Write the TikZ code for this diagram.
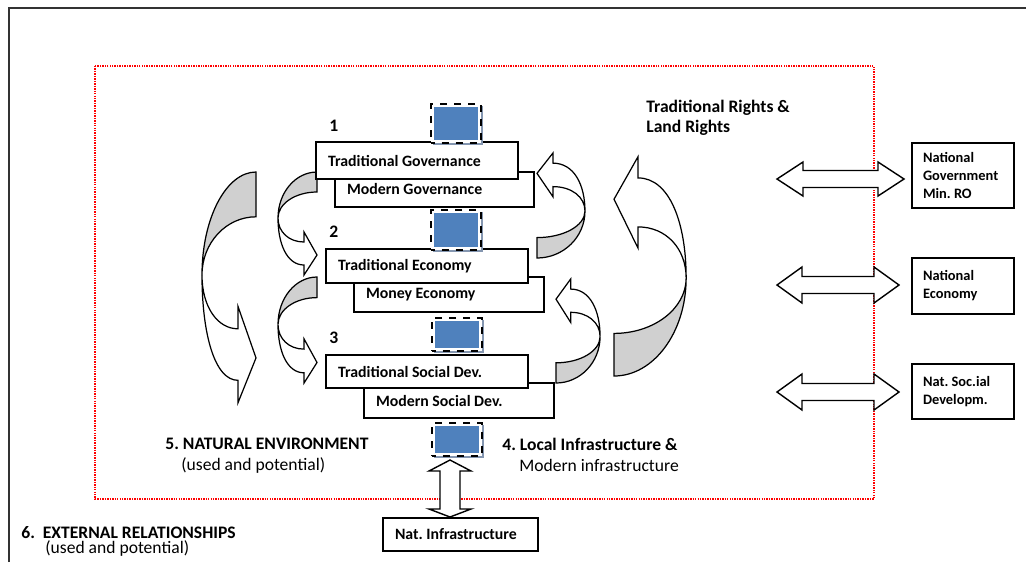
\documentclass[tikz,border=0pt]{standalone}
\usepackage{fontspec}
\setmainfont{Carlito}
\usepackage{tikz}
\usetikzlibrary{shadows}
\definecolor{blockblue}{HTML}{4F81BD}
\definecolor{shadowblue}{HTML}{8496B0}
\definecolor{backgray}{HTML}{D0D0D0}
\frenchspacing

\tikzset{
	layerbox/.style={draw, fill=white, line width=0.8pt, inner xsep=0.24cm, inner ysep=0pt, align=flush left, font=\bfseries\fontsize{9}{11}\selectfont},
	extbox/.style={draw, fill=white, line width=0.8pt, inner xsep=0.22cm, inner ysep=0pt, align=flush left, text width=1.6cm, font=\bfseries\fontsize{8.2}{10.24}\selectfont},
	hollow/.style={draw=black, fill=white, line width=0.8pt},
	backface/.style={draw=black, fill=backgray, line width=0.7pt},
	frontface/.style={draw=black, fill=white, line width=0.7pt},
	blueblock/.style={draw=black, line width=1.6pt, dash pattern=on 4pt off 4pt, dash phase=2pt, fill=white, minimum width=1cm, inner sep=0pt,
		drop shadow={fill=shadowblue, opacity=1, shadow xshift=1.3pt, shadow yshift=-1.3pt},
		path picture={\fill[blockblue] ([shift={(1.8pt,-1.8pt)}]path picture bounding box.north west) rectangle ([shift={(-1.8pt,1.8pt)}]path picture bounding box.south east);}},
	lbl/.style={anchor=base west, inner sep=0pt, font=\bfseries\fontsize{10}{12}\selectfont},
	sublbl/.style={anchor=base west, inner sep=0pt, font=\fontsize{10}{12}\selectfont},
	% twisted ribbon arrow: grey back at the top, head at the bottom pointing right
	bendarrow/.pic={
		\filldraw[backface] (0,0) .. controls (-21.5,0) and (-39,20.6) .. (-39,46)
			.. controls (-39,31.6) and (-21.5,20) .. (0,20) -- cycle;
		\filldraw[frontface] (-39,46) .. controls (-39,60) and (-28,70) .. (-13,70)
			-- (-13,60) -- (0,83) -- (-13,103) -- (-13,93)
			.. controls (-30,93) and (-39,72) .. (-39,46) -- cycle;
	}
}

\begin{document}
\begin{tikzpicture}[x=0.02cm, y=-0.02cm]
	\useasboundingbox (0,0) rectangle (1026,562);
	% outer frame
	\draw[line width=0.9pt, black!80] (9,562) -- (9,8) -- (1026,8);
	% local boundary
	\draw[red, line width=0.7pt, dash pattern=on 0.8pt off 0.6pt] (95,66) rectangle (874,499);

	% flows between the layers
	\pic[xscale=1.385, yscale=2.24] (envflow) at (256,172) {bendarrow};
	\pic (flowA) at (317,172) {bendarrow};
	\pic[yscale=1.03] (flowB) at (317,277) {bendarrow};
	\pic[xscale=-1.85, yscale=-2.13] (landflow) at (614,376) {bendarrow};
	\pic[xscale=-1.23, yscale=-1.02] (flowC) at (537,258) {bendarrow};
	\pic[xscale=-1.13, yscale=-1.01] (flowD) at (556,383) {bendarrow};

	% the three layers, modern behind traditional
	\node[layerbox, text width=3.50cm, minimum height=0.70cm] (mgov) at (434.5,189.5) {Modern Governance};
	\node[layerbox, text width=3.56cm, minimum height=0.74cm] (tgov) at (417,160.5) {Traditional Governance};
	\node[layerbox, text width=3.32cm, minimum height=0.70cm] (mecon) at (449,294.5) {Money Economy};
	\node[layerbox, text width=3.56cm, minimum height=0.68cm] (tecon) at (427,266) {Traditional Economy};
	\node[layerbox, text width=3.32cm, minimum height=0.70cm] (msoc) at (459,400.5) {Modern Social Dev.};
	\node[layerbox, text width=3.56cm, minimum height=0.66cm] (tsoc) at (427,371.5) {Traditional Social Dev.};

	\node[blueblock, minimum height=0.78cm] (blk1) at (456,123.5) {};
	\node[blueblock, minimum height=0.80cm] (blk2) at (456,230) {};
	\node[blueblock, minimum height=0.66cm] (blk3) at (457,334.5) {};
	\node[blueblock, minimum height=0.66cm] (blk4) at (457,439.5) {};

	% links to the national level
	\coordinate (govend) at (777,179);
	\filldraw[hollow] (govend) -- ++(26,-17) -- ++(0,8.5) -- ++(75,0) -- ++(0,-8.5) -- ++(26,17) -- ++(-26,17) -- ++(0,-8.5) -- ++(-75,0) -- ++(0,8.5) -- cycle;
	\coordinate (econend) at (777,285);
	\filldraw[hollow] (econend) -- ++(25,-18) -- ++(0,9.5) -- ++(72,0) -- ++(0,-9.5) -- ++(25,18) -- ++(-25,18) -- ++(0,-9.5) -- ++(-72,0) -- ++(0,9.5) -- cycle;
	\coordinate (socend) at (777,392);
	\filldraw[hollow] (socend) -- ++(25,-18) -- ++(0,9.5) -- ++(72,0) -- ++(0,-9.5) -- ++(25,18) -- ++(-25,18) -- ++(0,-9.5) -- ++(-72,0) -- ++(0,9.5) -- cycle;
	\coordinate (infend) at (450,517);
	\filldraw[hollow] (infend) -- ++(-21,-8) -- ++(11,0) -- ++(0,-38) -- ++(-11,0) -- ++(21,-11) -- ++(21,11) -- ++(-11,0) -- ++(0,38) -- ++(11,0) -- cycle;

	\node[extbox, minimum height=1.30cm] (natgov) at (963,175.5) {National\\Government\\Min. RO};
	\node[extbox, minimum height=1.12cm] (natecon) at (963,286) {National\\Economy};
	\node[extbox, minimum height=1.10cm] (natsoc) at (963,391.5) {Nat. Soc.ial\\Developm.};
	\node[layerbox, text width=2.62cm, minimum height=0.66cm] (natinf) at (460.5,534.5) {Nat. Infrastructure};

	% labels
	\node[lbl] (num1) at (329,131) {1};
	\node[lbl] (num2) at (329,237) {2};
	\node[lbl] (num3) at (329,343) {3};
	\node[lbl] (rights) at (646,112) {Traditional Rights \&};
	\node[lbl] (land) at (646,132) {Land Rights};
	\node[lbl] (env) at (165,449) {5. NATURAL ENVIRONMENT};
	\node[sublbl] (envsub) at (181,470) {(used and potential)};
	\node[lbl] (infra) at (502,450) {4. Local Infrastructure \&};
	\node[sublbl] (infrasub) at (519,471) {Modern infrastructure};
	\node[lbl] (ext) at (21,538) {6.\ \ EXTERNAL RELATIONSHIPS};
	\node[sublbl] (extsub) at (45,553) {(used and potential)};
\end{tikzpicture}
\end{document}
